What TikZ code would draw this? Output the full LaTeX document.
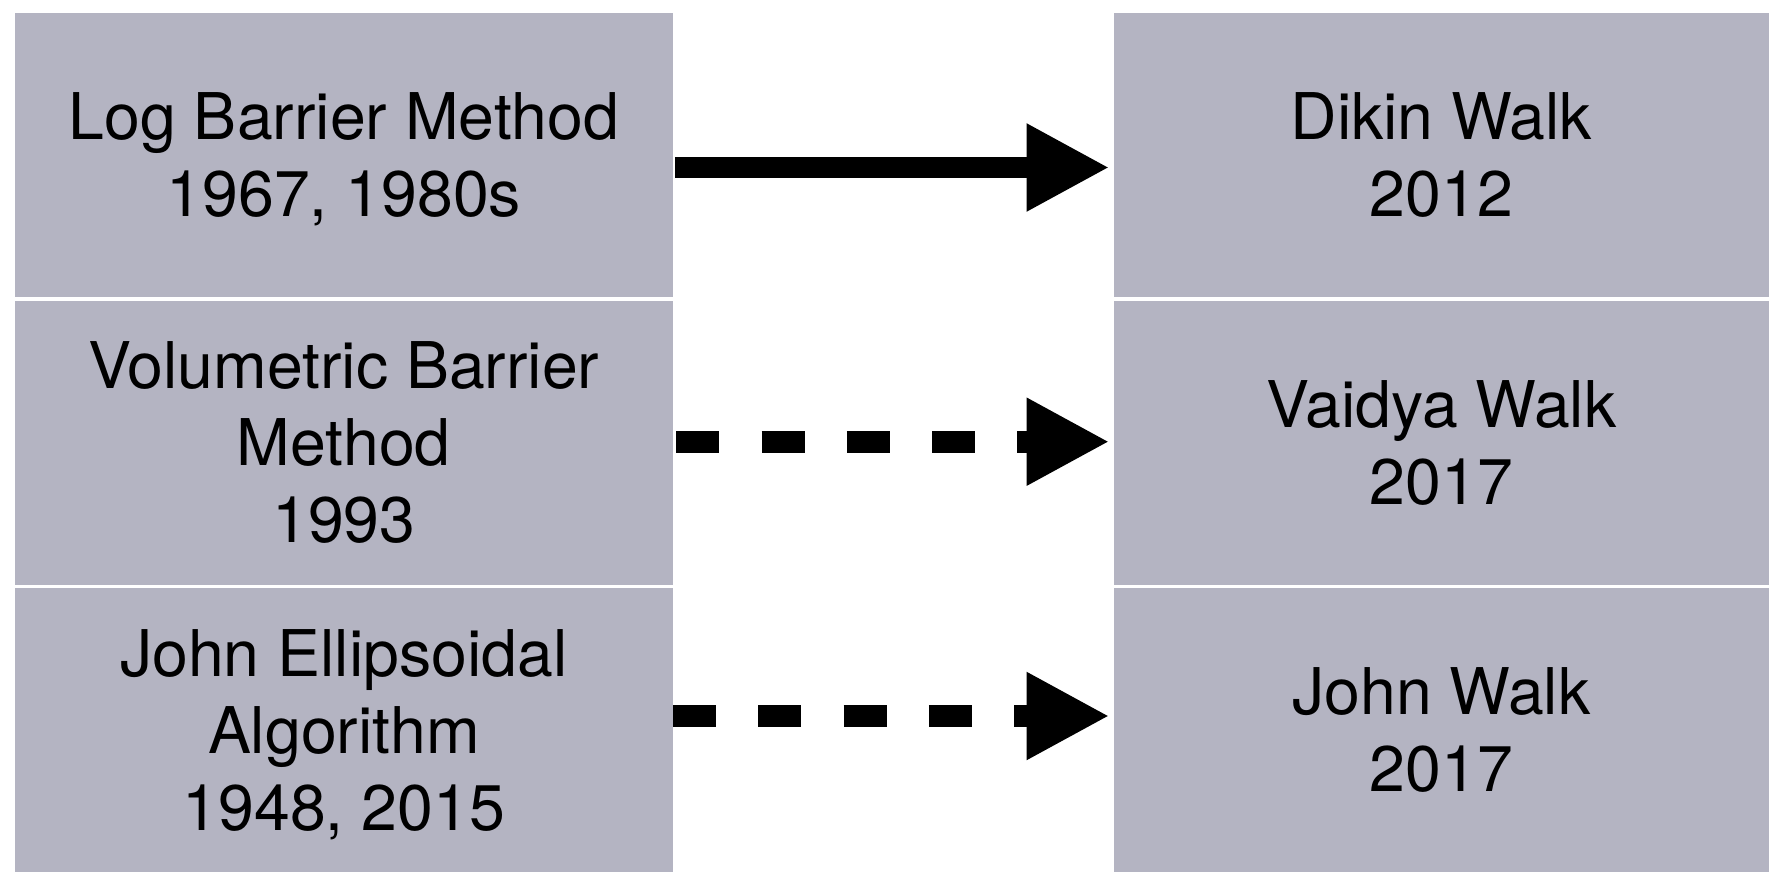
\documentclass[tikz,border=0pt]{standalone}
\usepackage{fontspec}
\setmainfont{TeX Gyre Heros}
\usetikzlibrary{arrows.meta}
\definecolor{boxgrey}{RGB}{180,180,194}
\begin{document}
\begin{tikzpicture}[x=0.5pt,y=-0.5pt,
  box/.style={fill=boxgrey, inner sep=0pt, outer sep=0pt,
    minimum height=142pt, align=center,
    font=\fontsize{32.2}{38.5}\selectfont},
  lbox/.style={box, minimum width=329.15pt},
  rbox/.style={box, minimum width=327.75pt},
  link/.style={line width=10.8pt, line cap=butt,
    -{Triangle[length=41.5pt,width=41pt]}, shorten >=2pt},
  linkdash/.style={link, dash pattern=on 21.5pt off 21.15pt}
]
\useasboundingbox (0,0) rectangle (1777,882);

% left column: barrier methods
\node[lbox] (lb)  at (343.85,155)  {Log Barrier Method\\\smash{1967, 1980s}};
\node[lbox] (vb)  at (343.85,442.8) {Volumetric Barrier\\Method\\1993};
\node[lbox] (je)  at (343.85,729.7) {John Ellipsoidal\\Algorithm\\\smash{1948, 2015}};

% right column: random walks
\node[rbox] (dw)  at (1441.25,155)  {Dikin Walk\\2012};
\node[rbox] (vw)  at (1441.25,442.8) {Vaidya Walk\\2017};
\node[rbox] (jw)  at (1441.25,729.7) {John Walk\\2017};

% connectors
\coordinate (y1) at (0,167.5);
\coordinate (y2) at (0,441.7);
\coordinate (y3) at (0,716);
\draw[link]     ([xshift=1pt]lb.east |- y1) -- (dw.west |- y1);
\draw[linkdash] ([xshift=1.6pt]vb.east |- y2) -- (vw.west |- y2);
\draw[linkdash] (je.east |- y3) -- (jw.west |- y3);
\end{tikzpicture}
\end{document}
